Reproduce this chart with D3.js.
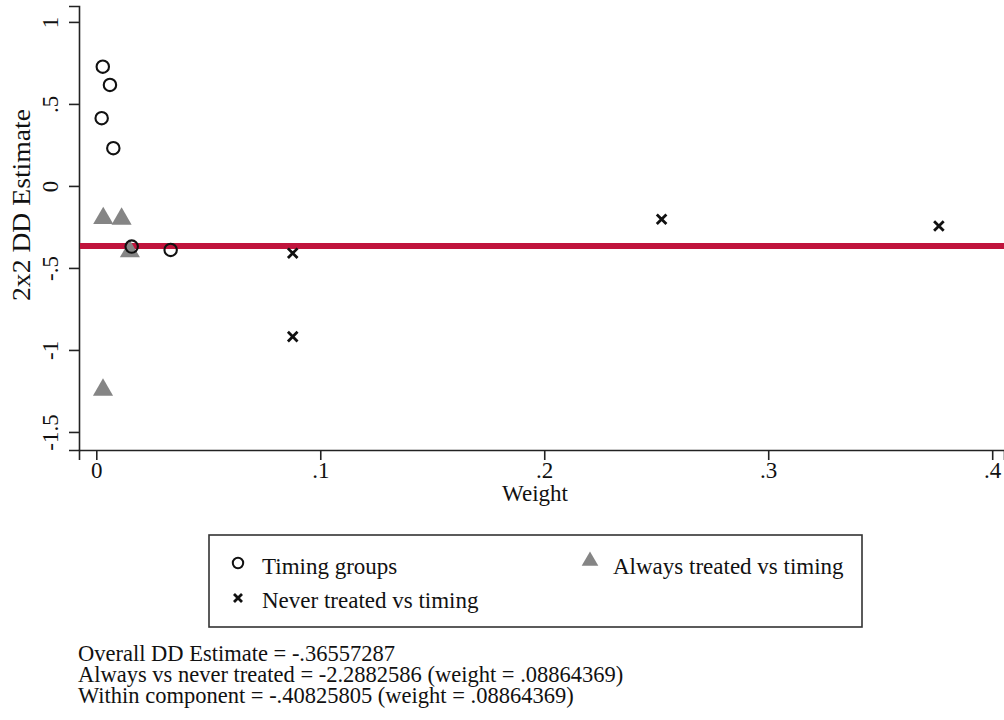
<!DOCTYPE html>
<html>
<head>
<meta charset="utf-8">
<script src="https://cdn.jsdelivr.net/npm/d3@7"></script>
<style>
  html, body { margin: 0; padding: 0; background: #fff; }
  svg { display: block; }
  text { font-family: "Liberation Serif", "Times New Roman", serif; fill: #111; }
</style>
</head>
<body>
<svg id="chart" width="1004" height="720"></svg>
<script>
// 2x2 difference-in-differences estimates against their weights (Bacon decomposition)
const timingWeight = [0.0029, 0.0061, 0.0024, 0.0076, 0.0158, 0.0332];
const timingEstimate = [0.727, 0.616, 0.413, 0.230, -0.370, -0.390];

const alwaysWeight = [0.0031, 0.0113, 0.0150, 0.0030];
const alwaysEstimate = [-0.197, -0.201, -0.400, -1.244];

const neverWeight = [0.0877, 0.0877, 0.2524, 0.3762];
const neverEstimate = [-0.410, -0.919, -0.203, -0.244];

const overallEstimate = -0.36557287;

const yTicks = [-1.5, -1, -0.5, 0, 0.5, 1];
const xTicks = [0, 0.1, 0.2, 0.3, 0.4];

const legendLabels = ["Timing groups", "Always treated vs timing", "Never treated vs timing"];
const noteLines = [
  "Overall DD Estimate = -.36557287",
  "Always vs never treated = -2.2882586 (weight = .08864369)",
  "Within component = -.40825805 (weight = .08864369)"
];

// Stata-style number labels: drop the leading zero
const stataFmt = v => {
  if (v === 0) return "0";
  const s = String(+v.toFixed(2));
  return s.replace(/^(-?)0\./, "$1.");
};

const serif = '"Liberation Serif", "Times New Roman", serif';
const svg = d3.select("#chart");
const plotLeft = 79, plotRight = 1004, plotTop = 6, plotBottom = 450;

const x = d3.scaleLinear().domain([-0.00772, 0.40527]).range([plotLeft, plotRight]);
const y = d3.scaleLinear().domain([-1.61, 1.097]).range([plotBottom, plotTop]);

const axisColor = "#222";

// y axis
const yAxis = svg.append("g")
  .attr("transform", `translate(${plotLeft},0)`)
  .call(d3.axisLeft(y).tickValues(yTicks).tickFormat(stataFmt).tickSizeOuter(0).tickSize(10).tickPadding(0))
  .attr("font-family", serif).attr("font-size", 23);
yAxis.select(".domain").attr("stroke", axisColor).attr("stroke-width", 1.6);
yAxis.selectAll(".tick line").attr("stroke", axisColor).attr("stroke-width", 1.6);
yAxis.selectAll(".tick text")
  .attr("x", 0).attr("y", 0).attr("dy", null)
  .attr("transform", "translate(-21,0) rotate(-90)")
  .attr("text-anchor", "middle")
  .attr("fill", "#111");

// x axis
const xAxis = svg.append("g")
  .attr("transform", `translate(0,${plotBottom})`)
  .call(d3.axisBottom(x).tickValues(xTicks).tickFormat(stataFmt).tickSizeOuter(0).tickSize(10).tickPadding(0))
  .attr("font-family", serif).attr("font-size", 23);
xAxis.select(".domain").attr("stroke", axisColor).attr("stroke-width", 1.6);
xAxis.selectAll(".tick line").attr("stroke", axisColor).attr("stroke-width", 1.6);
xAxis.selectAll(".tick text")
  .attr("y", 28).attr("dy", null)
  .attr("fill", "#111");

// axis titles
svg.append("text")
  .attr("transform", "translate(30,205) rotate(-90)")
  .attr("text-anchor", "middle")
  .attr("textLength", 192).attr("lengthAdjust", "spacingAndGlyphs")
  .style("font-size", "25px")
  .text("2x2 DD Estimate");

svg.append("text")
  .attr("x", 535).attr("y", 501)
  .attr("text-anchor", "middle")
  .style("font-size", "23px")
  .text("Weight");

// overall estimate reference line
svg.append("line")
  .attr("x1", plotLeft + 1).attr("x2", plotRight)
  .attr("y1", y(overallEstimate)).attr("y2", y(overallEstimate))
  .attr("stroke", "#c0143c").attr("stroke-width", 6);

const tri = d3.symbol().type(d3.symbolTriangle).size(175);

// always treated vs timing
svg.append("g").selectAll("path")
  .data(alwaysWeight.map((w, i) => [w, alwaysEstimate[i]]))
  .join("path")
  .attr("d", tri)
  .attr("transform", d => `translate(${x(d[0])},${y(d[1])})`)
  .attr("fill", "#858585");

// timing groups
svg.append("g").selectAll("circle")
  .data(timingWeight.map((w, i) => [w, timingEstimate[i]]))
  .join("circle")
  .attr("cx", d => x(d[0])).attr("cy", d => y(d[1]))
  .attr("r", 6.2)
  .attr("fill", "none").attr("stroke", "#111").attr("stroke-width", 2.1);

// never treated vs timing
const cross = (g, s) => g.attr("d", `M${-s},${-s}L${s},${s}M${-s},${s}L${s},${-s}`)
  .attr("stroke", "#111").attr("stroke-width", 2.8).attr("fill", "none");
svg.append("g").selectAll("path")
  .data(neverWeight.map((w, i) => [w, neverEstimate[i]]))
  .join("path")
  .attr("transform", d => `translate(${x(d[0])},${y(d[1])})`)
  .call(cross, 4.8);

// legend
const legend = svg.append("g");
legend.append("rect")
  .attr("x", 209).attr("y", 535).attr("width", 653).attr("height", 92)
  .attr("fill", "#fff").attr("stroke", "#333").attr("stroke-width", 1.6);

legend.append("circle")
  .attr("cx", 238).attr("cy", 563).attr("r", 5.2)
  .attr("fill", "none").attr("stroke", "#111").attr("stroke-width", 2);
legend.append("text").attr("x", 262).attr("y", 574).style("font-size", "23px").text(legendLabels[0]);

legend.append("path").attr("d", d3.symbol().type(d3.symbolTriangle).size(120))
  .attr("transform", "translate(590,561)").attr("fill", "#858585");
legend.append("text").attr("x", 613).attr("y", 574).style("font-size", "23px").text(legendLabels[1]);

legend.append("path").attr("transform", "translate(238,598)").call(cross, 4);
legend.append("text").attr("x", 262).attr("y", 608).style("font-size", "23px").text(legendLabels[2]);

// notes
svg.append("g").selectAll("text")
  .data(noteLines)
  .join("text")
  .attr("x", 78).attr("y", (d, i) => 661 + i * 21)
  .style("font-size", "22.5px")
  .text(d => d);
</script>
</body>
</html>
